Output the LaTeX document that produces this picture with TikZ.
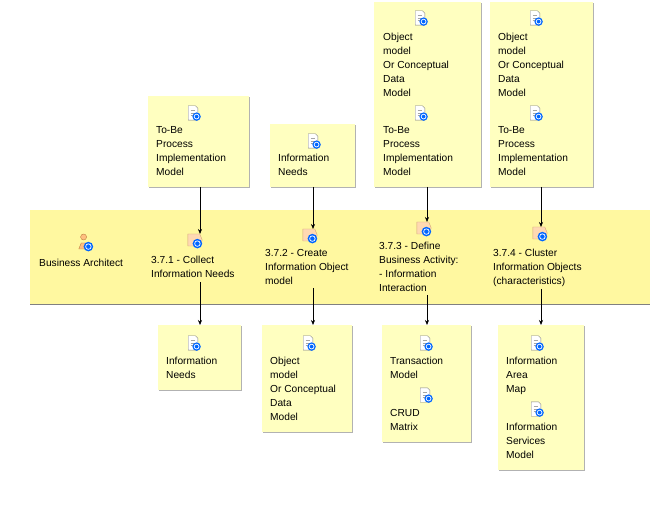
\documentclass[tikz,border=0pt]{standalone}
\usepackage{fontspec}
\setmainfont{Liberation Sans}
\usetikzlibrary{arrows.meta}
\newcommand{\ybox}[5]{\fill[gray!60] (#2+1,#3+1) rectangle (#4+1,#5+1); \fill[boxyellow] (#2,#3) rectangle (#4,#5); \coordinate (#1) at (#2,#3);}
\begin{document}
\begin{tikzpicture}[x=1pt,y=-1pt,
  lbl/.style={anchor=north west,inner sep=0pt,yshift=-2pt,font=\fontsize{10.2}{14}\selectfont,align=left},
  arr/.style={-{Stealth[length=5pt,width=4pt]},black,line width=0.6pt},
  doc/.pic={\begin{scope}[scale=1.2]\fill[white,draw=gray] (-4,-6) -- (2,-6) -- (4,-4) -- (4,6) -- (-4,6) -- cycle;
    \draw[gray!70,line width=0.4pt] (-2,-2)--(2,-2) (-2,0)--(2,0) (-2,2)--(2,2);
    \fill[blue!60!cyan] (3,3) circle (3.5); \draw[white,line width=0.7pt] (3,3) circle (2);\end{scope}},
  task/.pic={\begin{scope}[scale=1.2]\fill[orange!30,draw=brown!70] (-6,-5) -- (4,-5) -- (6,0) -- (4,5) -- (-6,5) -- cycle;
    \fill[blue!60!cyan] (2,3) circle (4); \draw[white,line width=0.7pt] (2,3) circle (2.3);\end{scope}},
  role/.pic={\begin{scope}[scale=1.2]\fill[orange!50,draw=brown] (-2,-5) circle (2.5); \fill[orange!50,draw=brown] (-6,5) -- (-4,0) -- (0,0) -- (2,5) -- cycle;
    \fill[blue!60!cyan] (2,3) circle (4); \draw[white,line width=0.7pt] (2,3) circle (2.3);\end{scope}}]
\definecolor{boxyellow}{RGB}{255,255,192}
\definecolor{laneyellow}{RGB}{255,248,160}
\useasboundingbox (0,0) rectangle (670,513);
\fill[white] (0,0) rectangle (670,513);
% lane
\fill[laneyellow] (30,210) rectangle (650,304);
\draw[gray] (30,304.5) -- (650,304.5);
\ybox{t1}{148}{96}{249}{187}
\ybox{t2}{270}{124}{355}{187}
\ybox{t3}{374}{2}{481}{187}
\ybox{t4}{490}{2}{593}{187}
\ybox{b1}{158}{325}{241}{390}
\ybox{b2}{262}{325}{352}{432}
\ybox{b3}{382}{325}{471}{442}
\ybox{b4}{498}{325}{584}{470}
% top texts
\pic at (193,113) {doc};
\node[lbl] (t1a) at (156,124) {To-Be\\Process\\Implementation\\Model};
\pic at (313,141) {doc};
\node[lbl] (t2a) at (278,152) {Information\\Needs};
\pic at (420,18) {doc};
\node[lbl] (t3a) at (383,31) {Object\\model\\Or Conceptual\\Data\\Model};
\pic at (420,113) {doc};
\node[lbl] (t3b) at (383,124) {To-Be\\Process\\Implementation\\Model};
\pic at (535,18) {doc};
\node[lbl] (t4a) at (498,31) {Object\\model\\Or Conceptual\\Data\\Model};
\pic at (535,113) {doc};
\node[lbl] (t4b) at (498,124) {To-Be\\Process\\Implementation\\Model};
% lane items
\pic at (86,243) {role};
\node[lbl] (ba) at (39,257) {Business Architect};
\pic at (195,240) {task};
\node[lbl] (k1) at (151,254) {3.7.1 - Collect\\Information Needs};
\pic at (310,235) {task};
\node[lbl] (k2) at (265,247) {3.7.2 - Create\\Information Object\\model};
\pic at (424,228) {task};
\node[lbl] (k3) at (379,240) {3.7.3 - Define\\Business Activity:\\- Information\\Interaction};
\pic at (540,233) {task};
\node[lbl] (k4) at (493,247) {3.7.4 - Cluster\\Information Objects\\(characteristics)};
% bottom texts
\pic at (193,343) {doc};
\node[lbl] (b1a) at (166,355) {Information\\Needs};
\pic at (308,343) {doc};
\node[lbl] (b2a) at (270,355) {Object\\model\\Or Conceptual\\Data\\Model};
\pic at (425,343) {doc};
\node[lbl] (b3a) at (390,355) {Transaction\\Model};
\pic at (425,395) {doc};
\node[lbl] (b3b) at (390,407) {CRUD\\Matrix};
\pic at (536,343) {doc};
\node[lbl] (b4a) at (506,355) {Information\\Area\\Map};
\pic at (536,409) {doc};
\node[lbl] (b4b) at (506,421) {Information\\Services\\Model};
% arrows
\coordinate (a1s) at (200,187); \coordinate (a1e) at (200,234);
\coordinate (a2s) at (313,187); \coordinate (a2e) at (313,229);
\coordinate (a3s) at (427,187); \coordinate (a3e) at (427,222);
\coordinate (a4s) at (541,187); \coordinate (a4e) at (541,227);
\draw[arr] (a1s) -- (a1e); \draw[arr] (a2s) -- (a2e);
\draw[arr] (a3s) -- (a3e); \draw[arr] (a4s) -- (a4e);
\coordinate (d1s) at (200,282); \coordinate (d1e) at (200,325);
\coordinate (d2s) at (313,288); \coordinate (d2e) at (313,325);
\coordinate (d3s) at (427,295); \coordinate (d3e) at (427,325);
\coordinate (d4s) at (541,289); \coordinate (d4e) at (541,325);
\draw[arr] (d1s) -- (d1e); \draw[arr] (d2s) -- (d2e);
\draw[arr] (d3s) -- (d3e); \draw[arr] (d4s) -- (d4e);
\end{tikzpicture}
\end{document}
